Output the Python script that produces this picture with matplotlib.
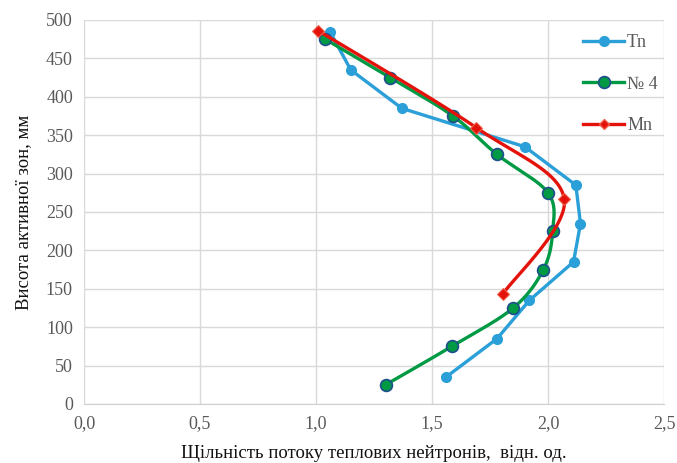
import numpy as np
import matplotlib
matplotlib.use("Agg")
import matplotlib.pyplot as plt

plt.rcParams['font.family'] = ['Liberation Serif', 'DejaVu Serif']

# data
tn_x = [1.06, 1.15, 1.37, 1.90, 2.12, 2.14, 2.11, 1.92, 1.78, 1.56]
tn_y = [485, 435, 385, 335, 285, 235, 185, 135, 85, 35]

n4_x = [1.04, 1.32, 1.59, 1.78, 2.00, 2.02, 1.98, 1.85, 1.585, 1.30]
n4_y = [475, 425, 375, 325, 275, 225, 175, 125, 75, 25]

mn_x = [1.01, 1.69, 2.07, 1.805]
mn_y = [486, 360, 267, 143]

x_ticks = [0.0, 0.5, 1.0, 1.5, 2.0, 2.5]
y_ticks = list(range(0, 501, 50))

SX, SY = 232.0, 0.768  # px per unit, used only for the Excel-like smoothing


def smooth(xs, ys, n=30):
    # Excel style smoothed line: Bezier with Catmull-Rom control points (screen space)
    p = np.column_stack([np.asarray(xs) * SX, np.asarray(ys) * SY])
    out = [p[0]]
    for i in range(len(p) - 1):
        p0 = p[i - 1] if i > 0 else p[i]
        p3 = p[i + 2] if i + 2 < len(p) else p[i + 1]
        c1 = p[i] + (p[i + 1] - p0) / 6
        c2 = p[i + 1] - (p3 - p[i]) / 6
        t = np.linspace(0, 1, n)[1:, None]
        seg = ((1 - t) ** 3 * p[i] + 3 * (1 - t) ** 2 * t * c1
               + 3 * (1 - t) * t ** 2 * c2 + t ** 3 * p[i + 1])
        out.extend(seg)
    out = np.array(out)
    return out[:, 0] / SX, out[:, 1] / SY


fig = plt.figure(figsize=(6.77, 4.63), dpi=100)
ax = fig.add_axes([84 / 677, 59 / 463, 580 / 677, 384 / 463])

blue = "#2A9FD8"
green = "#009A44"
red = "#E3120B"

ax.plot(tn_x, tn_y, color=blue, lw=2.4, marker="o", ms=7, mfc=blue, mec=blue,
        label="Tn", zorder=3)

sx, sy = smooth(n4_x, n4_y)
ax.plot(sx, sy, color=green, lw=2.4, zorder=4)
ax.plot(n4_x, n4_y, ls="none", marker="o", ms=8.5, mfc=green, mec="#1F4E8C",
        mew=1.2, zorder=5)
ax.plot([], [], color=green, lw=2.4, marker="o", ms=8.5, mfc=green,
        mec="#1F4E8C", mew=1.2, label="№ 4")

sx, sy = smooth(mn_x, mn_y)
ax.plot(sx, sy, color=red, lw=2.4, zorder=6)
ax.plot(mn_x, mn_y, ls="none", marker="D", ms=6, mfc=red, mec="#F0604A",
        mew=0.8, zorder=7)
ax.plot([], [], color=red, lw=2.4, marker="D", ms=5, mfc=red, mec="#F0604A",
        label="Mn")

ax.set_xlim(0, 2.5)
ax.set_ylim(0, 500)
ax.set_xticks(x_ticks)
ax.set_xticklabels([f"{v:.1f}".replace(".", ",") for v in x_ticks])
ax.set_yticks(y_ticks)
ax.grid(True, color="#D9D9D9", lw=1)
ax.set_axisbelow(True)
for s in ["top", "right", "left"]:
    ax.spines[s].set_visible(False)
ax.spines["bottom"].set_color("#D0D0D0")
ax.tick_params(length=0, labelsize=13, colors="#595959", pad=8)

ax.set_xlabel("Щільність потоку теплових нейтронів,  відн. од.", fontsize=13.5,
              color="#111111", labelpad=9)
ax.set_ylabel("Висота активної зон, мм", fontsize=13.5, color="#111111",
              labelpad=10)

leg = ax.legend(loc="upper left", bbox_to_anchor=(0.832, 1.005), frameon=False,
                fontsize=13, labelspacing=1.35, handlelength=2.3,
                handletextpad=0.15, labelcolor="#595959")

fig.savefig("out.png", dpi=100)
